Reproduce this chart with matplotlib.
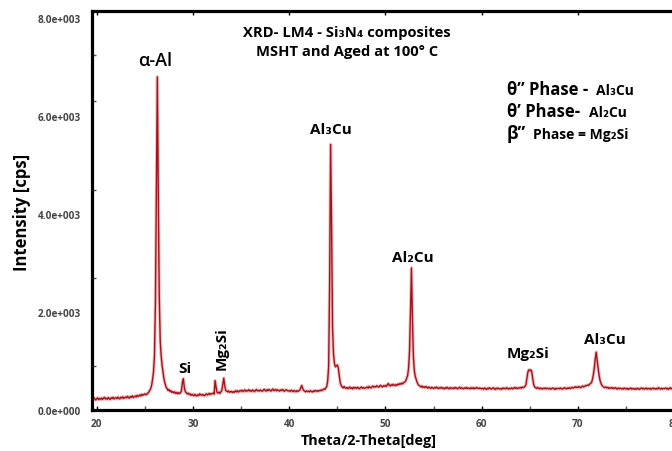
import numpy as np
import matplotlib
matplotlib.use('Agg')
from matplotlib import pyplot as plt
from matplotlib.ticker import FixedLocator, FuncFormatter

# scan: 2-theta from 19.5 deg, one reading every 0.1 deg
start_deg = 19.5
step_deg = 0.1
intensity = [
    240, 215, 250, 225, 205,                                   # 19.5-19.9
    230, 250, 210, 235, 220, 245, 215, 240, 260, 225,          # 20
    240, 220, 255, 230, 215, 250, 235, 260, 225, 245,          # 21
    250, 230, 265, 240, 225, 260, 245, 270, 235, 255,          # 22
    265, 245, 280, 255, 240, 275, 260, 290, 255, 270,          # 23
    285, 265, 300, 275, 290, 310, 285, 320, 300, 315,          # 24
    330, 310, 320, 345, 360, 400, 430, 500, 620, 780,          # 25
    1100, 2200, 4600, 6800, 4300, 2300, 1400, 1100, 900, 760,  # 26 alpha-Al
    620, 540, 470, 440, 400, 420, 380, 395, 360, 375,          # 27
    350, 370, 340, 360, 330, 355, 335, 350, 390, 560,          # 28
    640, 460, 380, 350, 330, 345, 315, 330, 300, 320,          # 29 Si
    305, 290, 320, 300, 285, 310, 295, 330, 310, 300,          # 30
    320, 300, 290, 315, 330, 305, 320, 340, 315, 335,          # 31
    330, 345, 325, 600, 470, 360, 345, 365, 340, 370,          # 32 Mg2Si
    400, 520, 650, 500, 400, 385, 370, 390, 360, 375,          # 33 Mg2Si
    380, 355, 375, 360, 390, 370, 395, 365, 380, 400,          # 34
    385, 405, 375, 395, 410, 380, 400, 390, 415, 385,          # 35
    400, 380, 410, 395, 375, 405, 420, 390, 400, 385,          # 36
    410, 395, 380, 405, 425, 400, 385, 415, 395, 420,          # 37
    400, 385, 410, 430, 395, 405, 420, 390, 410, 400,          # 38
    385, 410, 395, 420, 400, 380, 405, 415, 395, 390,          # 39
    395, 380, 405, 390, 375, 400, 385, 370, 395, 380,          # 40
    390, 405, 450, 500, 440, 400, 385, 370, 390, 375,          # 41
    385, 370, 395, 380, 365, 390, 375, 400, 385, 395,          # 42
    380, 400, 390, 410, 395, 415, 430, 420, 450, 480,          # 43
    600, 900, 2600, 5420, 3800, 1700, 1150, 950, 880, 900,     # 44 Al3Cu
    920, 860, 700, 560, 500, 470, 450, 480, 455, 440,          # 45
    460, 435, 450, 470, 440, 455, 430, 465, 445, 460,          # 46
    440, 465, 450, 430, 455, 470, 445, 460, 440, 450,          # 47
    455, 470, 445, 480, 460, 450, 475, 490, 465, 480,          # 48
    470, 495, 480, 465, 490, 505, 480, 470, 495, 485,          # 49
    500, 480, 520, 540, 505, 490, 515, 500, 525, 510,          # 50
    495, 520, 505, 530, 515, 540, 525, 550, 535, 560,          # 51
    570, 590, 650, 700, 850, 1200, 2000, 2900, 1900, 1100,     # 52 Al2Cu
    800, 680, 620, 560, 520, 500, 485, 470, 490, 460,          # 53
    475, 455, 480, 465, 445, 470, 455, 440, 465, 450,          # 54
    440, 460, 445, 470, 450, 435, 455, 445, 465, 440,          # 55
    450, 430, 455, 440, 465, 445, 430, 455, 440, 450,          # 56
    435, 455, 440, 460, 445, 430, 450, 465, 440, 455,          # 57
    445, 430, 450, 440, 460, 435, 450, 445, 430, 455,          # 58
    440, 455, 430, 450, 440, 460, 445, 435, 450, 440,          # 59
    430, 445, 425, 450, 435, 420, 445, 430, 455, 440,          # 60
    425, 440, 455, 435, 420, 445, 430, 450, 435, 425,          # 61
    440, 425, 450, 435, 445, 430, 455, 440, 425, 445,          # 62
    435, 450, 430, 445, 460, 440, 455, 435, 450, 445,          # 63
    460, 445, 470, 455, 465, 480, 520, 650, 780, 820,          # 64
    800, 820, 780, 640, 520, 470, 455, 440, 460, 445,          # 65 Mg2Si
    430, 450, 440, 425, 445, 435, 450, 430, 445, 440,          # 66
    430, 445, 425, 440, 450, 435, 420, 445, 430, 440,          # 67
    445, 430, 450, 435, 425, 445, 455, 440, 430, 450,          # 68
    440, 455, 435, 450, 465, 445, 460, 475, 455, 470,          # 69
    460, 480, 465, 455, 475, 490, 470, 485, 500, 495,          # 70
    510, 500, 525, 540, 560, 620, 720, 860, 1050, 1180,        # 71
    1000, 850, 700, 600, 540, 500, 480, 465, 455, 470,         # 72 Al3Cu
    450, 465, 440, 455, 445, 460, 435, 450, 440, 455,          # 73
    440, 425, 450, 435, 445, 430, 440, 425, 450, 435,          # 74
    430, 445, 420, 440, 430, 450, 425, 440, 435, 420,          # 75
    440, 425, 445, 430, 420, 440, 450, 430, 445, 425,          # 76
    435, 450, 425, 440, 430, 445, 420, 435, 450, 430,          # 77
    440, 425, 445, 430, 455, 435, 425, 445, 430, 440,          # 78
    435, 450, 430, 445, 420, 440, 455, 430, 445, 435,          # 79
    440, 425, 450, 435, 445, 430,                              # 80
]
two_theta = start_deg + step_deg * np.arange(len(intensity))

x_ticks = [20, 30, 40, 50, 60, 70, 80]
y_ticks = [0, 2000, 4000, 6000, 8000]

FONT = ['Open Sans', 'DejaVu Sans']
plt.rcParams['font.family'] = FONT
plt.rcParams['font.weight'] = 'bold'

W, H = 672, 452
fig = plt.figure(figsize=(W / 100, H / 100), dpi=100)
# axes box in pixels: left spine 92, bottom 411, top 12, right runs past the edge
ax = fig.add_axes([92 / W, (H - 411) / H, 608 / W, 399 / H])

ax.plot(two_theta, intensity, color='#e88a8a', lw=2.4, alpha=0.55)
ax.plot(two_theta, intensity, color='#a3121d', lw=1.0)

ax.set_xlim(19.51, 82.68)
ax.set_ylim(0, 8143)

for side in ax.spines.values():
    side.set_linewidth(2.3)
    side.set_color('black')

def sci_label(v, pos):
    m, e = f'{v:.1e}'.split('e')
    return f'{m}e{int(e):+04d}'

ax.yaxis.set_major_locator(FixedLocator(y_ticks))
ax.yaxis.set_major_formatter(FuncFormatter(sci_label))
ax.yaxis.set_minor_locator(FixedLocator([900, 2700, 4500, 6300, 7250]))
ax.xaxis.set_major_locator(FixedLocator(x_ticks))
ax.xaxis.set_minor_locator(FixedLocator([25, 35, 45, 55, 65, 75]))
ax.tick_params(axis='y', which='major', length=0, pad=8, labelsize=7.2, labelcolor='#444444')
ax.tick_params(axis='x', which='major', length=3, width=1, direction='in', pad=6,
               labelsize=7.2, labelcolor='#444444', top=True)
ax.tick_params(which='minor', length=3, width=1, direction='in', color='#555555')

def fxy(px, py):
    return px / W, 1 - py / H

fig.text(*fxy(369, 441), 'Theta/2-Theta[deg]', ha='center', va='center', fontsize=10.4)
fig.text(*fxy(22, 212), 'Intensity [cps]', ha='center', va='center', rotation=90, fontsize=12)

fig.text(*fxy(347, 33), 'XRD- LM4 - Si\u2083N\u2084 composites', ha='center', va='center', fontsize=10.6)
fig.text(*fxy(347, 52), 'MSHT and Aged at 100\u00b0 C', ha='center', va='center', fontsize=10.6)

fig.text(*fxy(155, 61), '\u03b1-Al', ha='center', va='center', fontsize=13, fontweight='semibold')
fig.text(*fxy(185, 369), 'Si', ha='center', va='center', fontsize=11)
fig.text(*fxy(222, 349), 'Mg\u2082Si', ha='center', va='center', fontsize=11, rotation=90)
fig.text(*fxy(331, 130), 'Al\u2083Cu', ha='center', va='center', fontsize=11)
fig.text(*fxy(413, 258), 'Al\u2082Cu', ha='center', va='center', fontsize=11)
fig.text(*fxy(528, 354), 'Mg\u2082Si', ha='center', va='center', fontsize=11)
fig.text(*fxy(605, 340), 'Al\u2083Cu', ha='center', va='center', fontsize=11)

# phase key, right top
fig.text(*fxy(507, 95), '\u03b8\u201d Phase -', ha='left', va='baseline', fontsize=12)
fig.text(*fxy(596, 95), 'Al\u2083Cu', ha='left', va='baseline', fontsize=10)
fig.text(*fxy(507, 117), '\u03b8\u2019 Phase-', ha='left', va='baseline', fontsize=12)
fig.text(*fxy(589, 117), 'Al\u2082Cu', ha='left', va='baseline', fontsize=10)
fig.text(*fxy(507, 139), '\u03b2\u201d', ha='left', va='baseline', fontsize=12.5)
fig.text(*fxy(533, 139), 'Phase = Mg\u2082Si', ha='left', va='baseline', fontsize=10)

fig.savefig('out.png', dpi=100)
